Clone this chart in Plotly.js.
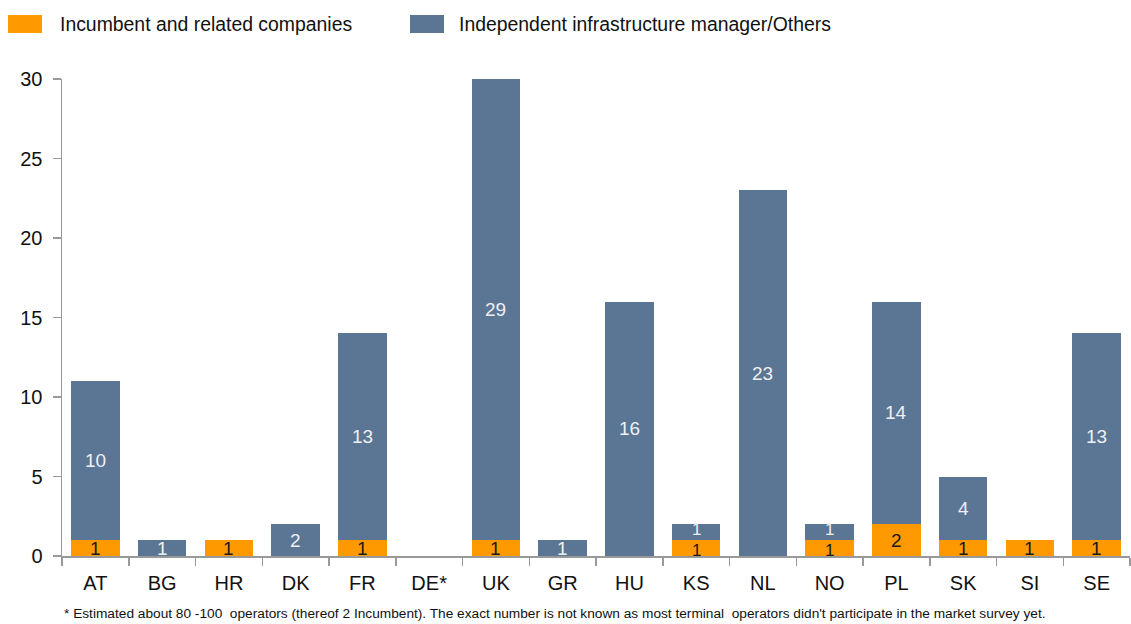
<!DOCTYPE html>
<html><head><meta charset="utf-8">
<script src="https://cdn.plot.ly/plotly-3.0.1.min.js"></script>
<style>html,body{margin:0;padding:0;background:#fff;}#chart{width:1131px;height:624px;}</style>
</head><body><div id="chart"></div>
<script>
const categories = ["AT","BG","HR","DK","FR","DE*","UK","GR","HU","KS","NL","NO","PL","SK","SI","SE"];
const incumbent = [1,0,1,0,1,0,1,0,0,1,0,1,2,1,1,1];
const others    = [10,1,0,2,13,0,29,1,16,1,23,1,14,4,0,13];
const yTicks = [0,5,10,15,20,25,30];
const seriesNames = ["Incumbent and related companies","Independent infrastructure manager/Others"];
const footnote = "* Estimated about 80 -100  operators (thereof 2 Incumbent). The exact number is not known as most terminal  operators didn't participate in the market survey yet.";

const ORANGE = "#FF9900", BLUE = "#5B7594";
const FONT = "'Liberation Sans Narrow', 'Arial Narrow', 'Liberation Sans', Arial, sans-serif";

const traces = [
  {type:"bar", x:categories, y:incumbent, name:seriesNames[0], marker:{color:ORANGE}, showlegend:false, hoverinfo:"x+y"},
  {type:"bar", x:categories, y:others, name:seriesNames[1], marker:{color:BLUE}, showlegend:false, hoverinfo:"x+y"}
];

const W=1131, H=624, mL=62, mR=1, mT=79, mB=68;
const pw=W-mL-mR, ph=H-mT-mB;
function px(xp){return (xp-mL)/pw;}
function py(yp){return (H-mB-yp)/ph;}

const annotations = [];
categories.forEach((c,i)=>{
  const tight = incumbent[i] > 0 && others[i] > 0 && others[i] <= 1;
  if (incumbent[i] > 0) annotations.push({x:c, y:incumbent[i]/2, xref:"x", yref:"y", yshift: tight ? -2 : 0,
    text:String(incumbent[i]), showarrow:false, font:{family:FONT, size: tight ? 17 : 19, color:"#1a1a1a"}});
  if (others[i] > 0) annotations.push({x:c, y:incumbent[i]+others[i]/2, xref:"x", yref:"y", yshift: tight ? 3 : 0,
    text:String(others[i]), showarrow:false, font:{family:FONT, size: tight ? 17 : 19, color:"#eef0f3"}});
});
annotations.push({xref:"paper", yref:"paper", x:px(58), y:py(24), xanchor:"left", yanchor:"middle", text:seriesNames[0], showarrow:false, font:{family:FONT, size:19.4, color:"#111"}});
annotations.push({xref:"paper", yref:"paper", x:px(457), y:py(24), xanchor:"left", yanchor:"middle", text:seriesNames[1], showarrow:false, font:{family:FONT, size:19.4, color:"#111"}});
annotations.push({xref:"paper", yref:"paper", x:px(62), y:py(613), xanchor:"left", yanchor:"middle", text:footnote, showarrow:false, font:{family:FONT, size:13.7, color:"#111"}});

const shapes = [
  {type:"rect", xref:"paper", yref:"paper", x0:px(8), x1:px(42), y0:py(33), y1:py(15), fillcolor:ORANGE, line:{width:0}},
  {type:"rect", xref:"paper", yref:"paper", x0:px(410), x1:px(444), y0:py(33), y1:py(15), fillcolor:BLUE, line:{width:0}}
];

const layout = {
  width:W, height:H, barmode:"stack", bargap:0.27,
  margin:{l:mL, r:mR, t:mT, b:mB, pad:0},
  paper_bgcolor:"#fff", plot_bgcolor:"#fff",
  showlegend:false,
  font:{family:FONT, size:20, color:"#111"},
  xaxis:{type:"category", tickson:"boundaries", ticks:"outside", ticklen:8, tickcolor:"#999", tickwidth:1.5,
         showline:true, linecolor:"#999", linewidth:1.5, showgrid:false, zeroline:false, ticklabelstandoff:8,
         tickfont:{family:FONT, size:20, color:"#111"}, automargin:false},
  yaxis:{range:[0,30], tickvals:yTicks, ticktext:yTicks.map(String), ticks:"outside", ticklen:8, tickcolor:"#999", tickwidth:1.5,
         showline:true, linecolor:"#999", linewidth:1.5, showgrid:false, zeroline:false, ticklabelstandoff:6,
         tickfont:{family:FONT, size:20, color:"#111"}, automargin:false},
  annotations:annotations, shapes:shapes
};
Plotly.newPlot("chart", traces, layout, {displayModeBar:false, staticPlot:true});
</script></body></html>
